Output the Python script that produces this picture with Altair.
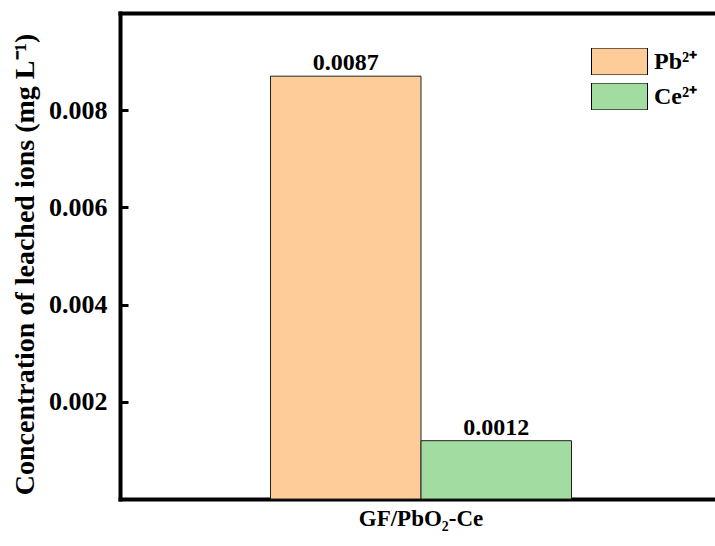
import altair as alt
import pandas as pd

categories = ["GF/PbO₂-Ce"]
ions = ["Pb²⁺", "Ce²⁺"]
values = [0.0087, 0.0012]
value_labels = ["0.0087", "0.0012"]
y_ticks = [0.002, 0.004, 0.006, 0.008]
colors = ["#FECC99", "#A2DCA0"]

df = pd.DataFrame({
    "cat": categories * len(ions),
    "ion": ions,
    "value": values,
    "label": value_labels,
})

FONT = "Liberation Serif"

xscale = alt.Scale(domain=categories, range=[0, 602], paddingInner=0, paddingOuter=0.5)
yscale = alt.Scale(domain=[0, 0.01], nice=False, zero=True)
offscale = alt.Scale(domain=ions, paddingInner=0, paddingOuter=0)

bars = alt.Chart(df).mark_bar(stroke="#222222", strokeWidth=1).encode(
    x=alt.X("cat:N", scale=xscale, axis=alt.Axis(
        title=None, ticks=False, domain=True, domainWidth=4, domainColor="black",
        domainCap="square",
        labelFont=FONT, labelFontSize=23, labelFontWeight="bold", labelColor="black",
        labelPadding=8, labelAngle=0)),
    xOffset=alt.XOffset("ion:N", scale=offscale, sort=ions),
    y=alt.Y("value:Q", scale=yscale, axis=alt.Axis(
        title="Concentration of leached ions (mg L⁻¹)",
        values=y_ticks, format=".3f", grid=False,
        domain=True, domainWidth=4, domainColor="black", domainCap="square",
        ticks=True, tickSize={"expr": "-8"}, tickWidth=3, tickColor="black",
        labelFont=FONT, labelFontSize=26, labelFontWeight="bold", labelColor="black",
        labelPadding=21,
        titleFont=FONT, titleFontSize=28, titleFontWeight="bold", titleColor="black",
        titleX=-95, titleY=251, titleBaseline="middle", titleAngle=270)),
    color=alt.Color("ion:N", scale=alt.Scale(domain=ions, range=colors), sort=ions,
                    legend=alt.Legend(
                        title=None, orient="none", legendX=471, legendY=35,
                        symbolType="M-1,-0.48H1V0.48H-1Z", symbolSize=3136,
                        clipHeight=27, rowPadding=8, labelOffset=6, padding=0,
                        symbolStrokeColor="black", symbolStrokeWidth=1, symbolOpacity=1,
                        labelFont=FONT, labelFontSize=24, labelFontWeight="bold",
                        labelColor="black")),
)

text = alt.Chart(df).mark_text(
    font=FONT, fontSize=24, fontWeight="bold", baseline="alphabetic", dy=-6, color="black"
).encode(
    x=alt.X("cat:N", scale=xscale, axis=alt.Axis(
        orient="top", title=None, labels=False, ticks=False, domain=True,
        domainWidth=4, domainColor="black", domainCap="square")),
    xOffset=alt.XOffset("ion:N", scale=offscale, sort=ions),
    y=alt.Y("value:Q", scale=yscale),
    text="label:N",
)

chart = alt.layer(bars, text).resolve_axis(x="independent").properties(
    width=595, height=486,
    padding={"left": 120, "top": 13, "right": 0, "bottom": 47},
    autosize=alt.AutoSizeParams(type="none"),
).configure_view(stroke=None).configure(background="white")

chart.save("out.html", embed_options={"renderer": "svg", "actions": False})
